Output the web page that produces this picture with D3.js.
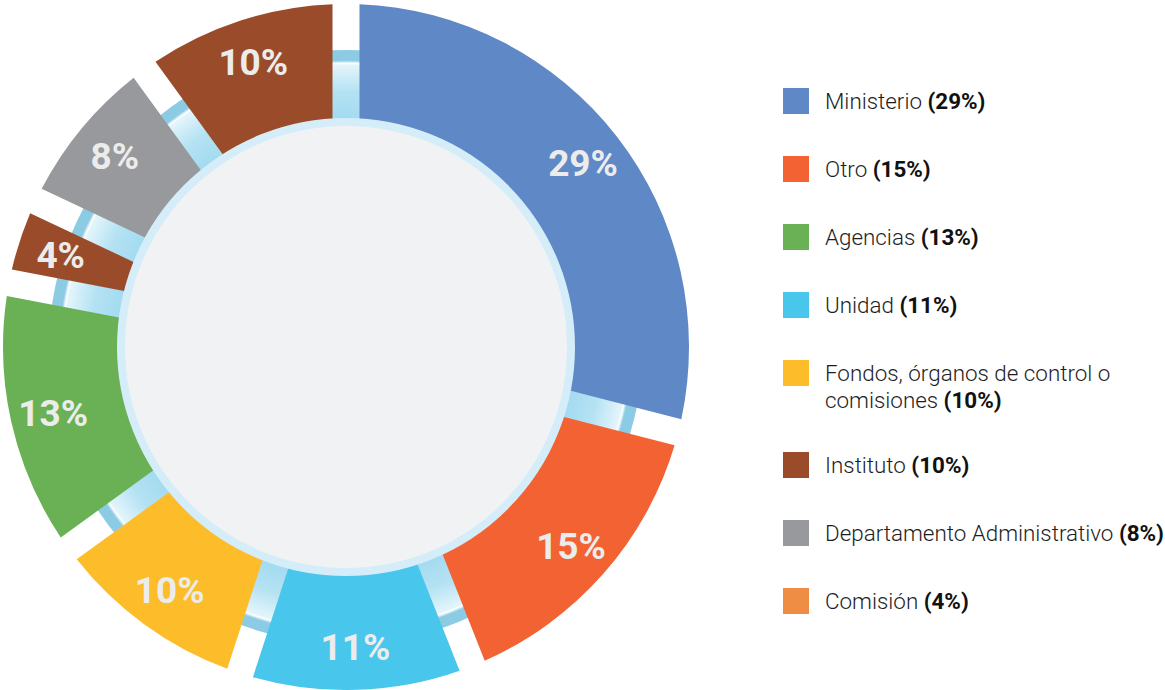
<!DOCTYPE html>
<html>
<head>
<meta charset="utf-8">
<script src="https://cdn.jsdelivr.net/npm/d3@7"></script>
<style>
    body { margin: 0; background: #ffffff; }
    svg { display: block; font-family: Roboto, "Noto Sans", sans-serif; }
    .slice-label { font-weight: 700; font-size: 37px; fill: #ececec; }
    .legend-text { font-size: 22.4px; font-weight: 300; fill: #1e1e1e; }
    .legend-text tspan.pct { font-weight: 700; fill: #111; }
</style>
</head>
<body>
<svg id="chart"></svg>
<script>
// slice order, clockwise from the top
const categories = ["Ministerio", "Otro", "Unidad", "Fondos, órganos de control o comisiones",
    "Agencias", "Comisión", "Departamento Administrativo", "Instituto"];
const values = [29, 15, 11, 10, 13, 4, 8, 10];

// legend order
const legendOrder = ["Ministerio", "Otro", "Agencias", "Unidad", "Fondos, órganos de control o comisiones",
    "Instituto", "Departamento Administrativo", "Comisión"];

const sliceColor = d3.scaleOrdinal(categories,
    ["#5f88c6", "#f26232", "#48c6ec", "#fdbd2a", "#6ab155", "#9a4c2a", "#97999c", "#9a4c2a"]);
const legendColor = d3.scaleOrdinal(categories,
    ["#5f88c6", "#f26232", "#48c6ec", "#fdbd2a", "#6ab155", "#ef8d45", "#97999c", "#9a4c2a"]);

const width = 1165, height = 690;
const cx = 346, cy = 347;
const outerR = 343, innerR = 229, ringR = 297;

const svg = d3.select("#chart").attr("width", width).attr("height", height);

// gradient for the light blue ring behind the slices (coords are in the translated group)
const defs = svg.append("defs");
const grad = defs.append("radialGradient")
    .attr("id", "ringGrad")
    .attr("gradientUnits", "userSpaceOnUse")
    .attr("cx", 0).attr("cy", 0).attr("r", ringR);
grad.append("stop").attr("offset", innerR / ringR).attr("stop-color", "#a4dbf0");
grad.append("stop").attr("offset", 0.86).attr("stop-color", "#b4e2f3");
grad.append("stop").attr("offset", 0.95).attr("stop-color", "#e4f5fb");
grad.append("stop").attr("offset", 0.955).attr("stop-color", "#ffffff");
grad.append("stop").attr("offset", 0.965).attr("stop-color", "#8ccbe4");
grad.append("stop").attr("offset", 1).attr("stop-color", "#8ccbe4");

const g = svg.append("g").attr("transform", `translate(${cx},${cy})`);

// ring
g.append("path")
    .attr("d", d3.arc()({ innerRadius: innerR - 10, outerRadius: ringR, startAngle: 0, endAngle: 2 * Math.PI }))
    .attr("fill", "url(#ringGrad)");

const pie = d3.pie().sort(null).value(d => d.value);
const data = pie(categories.map((c, i) => ({ name: c, value: values[i] })));

const arc = d3.arc()
    .innerRadius(innerR - 20)
    .outerRadius(outerR)
    .padRadius(300)
    .padAngle(27 / 300);

g.selectAll("path.slice")
    .data(data)
    .join("path")
    .attr("class", "slice")
    .attr("d", arc)
    .attr("fill", d => sliceColor(d.data.name));

// centre disc
g.append("circle")
    .attr("r", innerR - 4)
    .attr("fill", "#f1f2f4")
    .attr("stroke", "#d5edf9")
    .attr("stroke-width", 8);

// slice labels
const labelArc = d3.arc().innerRadius(300).outerRadius(300);
g.selectAll("text.slice-label")
    .data(data)
    .join("text")
    .attr("class", "slice-label")
    .attr("transform", d => `translate(${labelArc.centroid(d)})`)
    .attr("text-anchor", "middle")
    .attr("dy", "0.36em")
    .text(d => d.data.value + "%");

// legend
const valueOf = name => values[categories.indexOf(name)];
const legend = svg.append("g").attr("transform", "translate(783,0)");
const rowY = [101, 169, 237, 305, 373, 465, 533, 601];

legendOrder.forEach((name, i) => {
    const row = legend.append("g").attr("transform", `translate(0,${rowY[i] - 13})`);
    row.append("rect")
        .attr("width", 26).attr("height", 26)
        .attr("fill", legendColor(name));

    const txt = row.append("text")
        .attr("class", "legend-text")
        .attr("x", 42)
        .attr("y", 21);

    // simple word wrap on the name
    const words = name.split(" ");
    let lines = [], line = [];
    const probe = row.append("text").attr("class", "legend-text");
    words.forEach(w => {
        probe.text(line.concat(w).join(" "));
        if (line.length && probe.node().getComputedTextLength() > 320) {
            lines.push(line.join(" "));
            line = [w];
        } else {
            line.push(w);
        }
    });
    lines.push(line.join(" "));
    probe.remove();

    lines.forEach((l, j) => {
        txt.append("tspan").attr("x", 42).attr("dy", j === 0 ? 0 : 26.5).text(l + " ");
        if (j === lines.length - 1) {
            txt.append("tspan").attr("class", "pct").text("(" + valueOf(name) + "%)");
        }
    });
});
</script>
</body>
</html>
